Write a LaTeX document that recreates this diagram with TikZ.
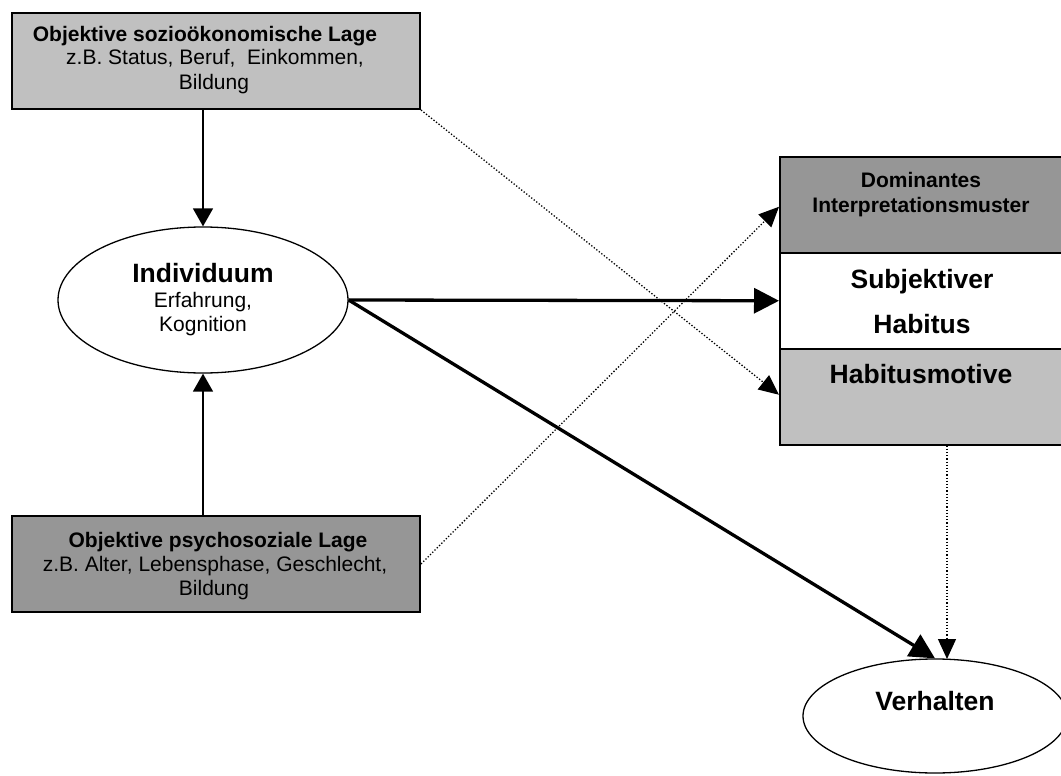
\documentclass[tikz,border=0pt]{standalone}
\usepackage{fontspec}
\setmainfont{Liberation Sans}
\usetikzlibrary{arrows.meta,shapes.geometric,calc}
\definecolor{lightgrey}{RGB}{192,192,192}
\definecolor{midgrey}{RGB}{150,150,150}
\begin{document}
\begin{tikzpicture}[x=1pt,y=-1pt,
  box/.style={draw,line width=2pt,inner sep=0pt,anchor=north west,minimum width=408pt,minimum height=96pt},
  stack/.style={draw,line width=1.5pt,inner sep=0pt,anchor=north west,minimum width=284pt,minimum height=96pt},
  oval/.style={ellipse,draw,line width=1.3pt,inner sep=0pt,fill=white},
  txt/.style={inner sep=0pt,anchor=base},
  small/.style={font=\fontsize{21}{24}\selectfont},
  smallbold/.style={font=\fontsize{21}{24}\selectfont\bfseries},
  big/.style={font=\fontsize{26.5}{30}\selectfont\bfseries},
  thinarrow/.style={line width=1.5pt,-{Triangle[length=18pt,width=20pt]}},
  heavyarrow/.style={line width=3.3pt,-{Triangle[length=25pt,width=25pt]}},
  dotarrow/.style={line width=1.3pt,dash pattern=on 1.3pt off 1.9pt,-{Triangle[length=20pt,width=18pt]}}]
\useasboundingbox (0,0) rectangle (1061,776);

% left column: socio-economic box, individual, psychosocial box
\node[box,fill=lightgrey] (soz) at (11,12) {};
\node[txt,smallbold] (soz1) at (205,42) {Objektive sozioökonomische Lage};
\node[txt,small] (soz2) at (215,65) {z.B. Status, Beruf,\ \ Einkommen,};
\node[txt,small] (soz3) at (214,90) {Bildung};

\node[box,fill=midgrey] (psy) at (11,515) {};
\node[txt,smallbold] (psy1) at (218,547) {Objektive psychosoziale Lage};
\node[txt,small] (psy2) at (215,571) {z.B. Alter, Lebensphase, Geschlecht,};
\node[txt,small] (psy3) at (214,595) {Bildung};

\node[oval,minimum width=290pt,minimum height=146pt] (ind) at (203,300) {};
\node[txt,big] (ind1) at (203,282) {Individuum};
\node[txt,small] (ind2) at (203,307) {Erfahrung,};
\node[txt,small] (ind3) at (203,331) {Kognition};

% right column: stacked habitus box
\node[stack,fill=midgrey] (dom) at (779,156) {};
\node[txt,smallbold] (dom1) at (921,187) {Dominantes};
\node[txt,smallbold] (dom2) at (921,212) {Interpretationsmuster};

\node[stack,fill=white] (subj) at (779,252) {};
\node[txt,big] (subj1) at (922,288) {Subjektiver};
\node[txt,big] (subj2) at (922,333) {Habitus};

\node[stack,fill=lightgrey] (mot) at (779,348) {};
\node[txt,big] (mot1) at (921,383) {Habitusmotive};

\node[oval,minimum width=264pt,minimum height=114pt] (verh) at (935,716) {};
\node[txt,big] (verh1) at (935,710) {Verhalten};
\coordinate (vin) at (947,659);

% connectors
\draw[thinarrow] (ind.north |- soz.south) -- (ind.north);
\draw[thinarrow] (ind.south |- psy.north) -- (ind.south);
\draw[heavyarrow] (ind.east) -- (subj.west);
\draw[heavyarrow] (ind.east) -- (verh.north);
\draw[dotarrow] (soz.south east) -- ($(mot.west)+(0,-2)$);
\draw[dotarrow] (psy.east) -- ($(dom.west)+(0,2)$);
\draw[dotarrow] (vin |- mot.south) -- (vin);
\end{tikzpicture}
\end{document}
